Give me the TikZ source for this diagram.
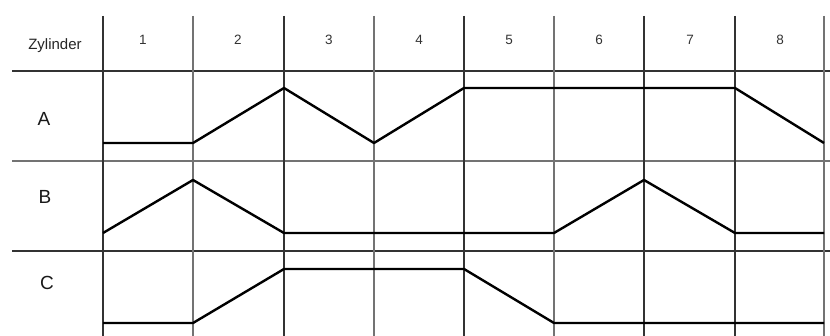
\documentclass[tikz,border=0pt]{standalone}
\usepackage{fontspec}
\setmainfont{Liberation Sans}
\begin{document}
\begin{tikzpicture}[x=1pt,y=-1pt,
  gridline/.style={draw=black!80,line width=1.1pt},
  gridlight/.style={draw=black!55,line width=2pt},
  signal/.style={draw=black,line width=2.4pt,line join=round},
  hdr/.style={font=\fontsize{15}{17}\selectfont,text=black!85,inner sep=0pt},
  num/.style={font=\fontsize{13.5}{15}\selectfont,text=black!80,inner sep=0pt},
  cyl/.style={font=\fontsize{19}{22}\selectfont,text=black!90,inner sep=0pt}]
\useasboundingbox (0,0) rectangle (830,336);
\fill[white] (0,0) rectangle (830,336);
% horizontal grid lines
\draw[gridline] (12,71) -- (830,71);
\draw[gridlight] (12,161) -- (830,161);
\draw[gridline] (12,251) -- (830,251);
% vertical grid lines
\draw[gridline] (103,16) -- (103,336);
\draw[gridlight] (193,16) -- (193,336);
\draw[gridline] (284,16) -- (284,336);
\draw[gridlight] (374,16) -- (374,336);
\draw[gridline] (464,16) -- (464,336);
\draw[gridlight] (554,16) -- (554,336);
\draw[gridline] (644,16) -- (644,336);
\draw[gridline] (735,16) -- (735,336);
\draw[gridlight] (824,16) -- (824,336);
% header texts
\node[hdr] (zyl) at (55,46) {Zylinder};
\foreach \i/\x in {1/143,2/238,3/329,4/419,5/509,6/599,7/690,8/780}
  \node[num] (n\i) at (\x,40) {\i};
\node[cyl] (la) at (44,119) {A};
\node[cyl] (lb) at (45,197) {B};
\node[cyl] (lc) at (47,283) {C};
% signals
\draw[signal] (103,143) -- (193,143) -- (284,88) -- (374,143) -- (464,88) -- (735,88) -- (824,143);
\draw[signal] (103,233) -- (193,180) -- (284,233) -- (554,233) -- (644,180) -- (735,233) -- (824,233);
\draw[signal] (103,323) -- (193,323) -- (284,269) -- (464,269) -- (554,323) -- (824,323);
\end{tikzpicture}
\end{document}
